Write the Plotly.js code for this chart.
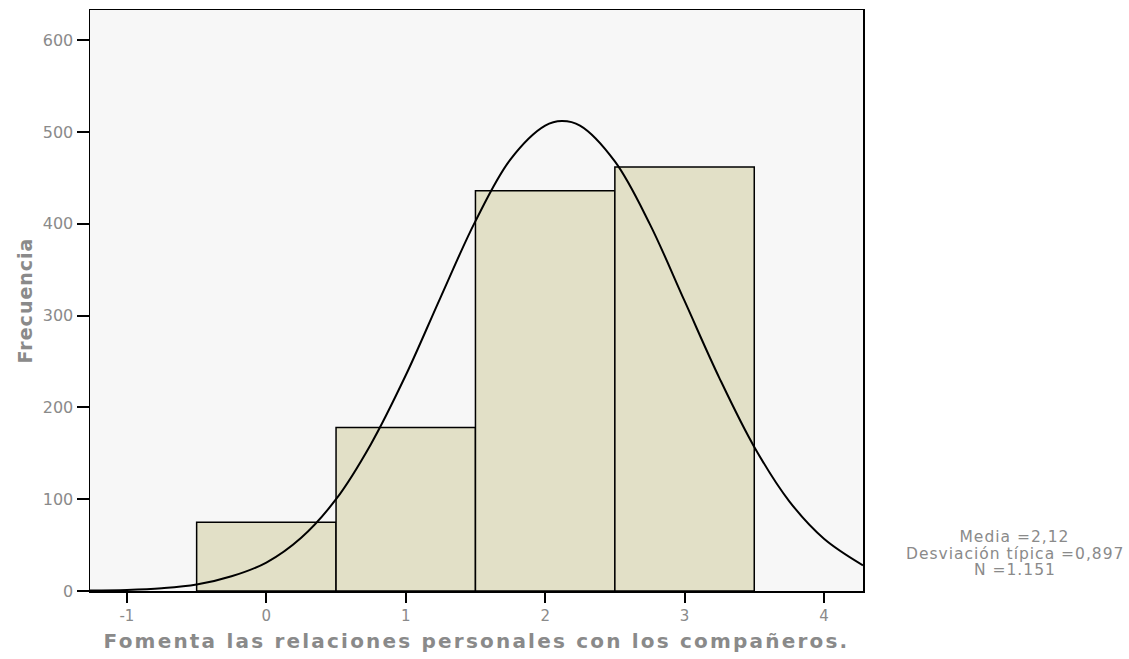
<!DOCTYPE html>
<html>
<head>
<meta charset="utf-8">
<script src="https://cdn.plot.ly/plotly-3.0.1.min.js"></script>
<style>
  html, body { margin: 0; padding: 0; background: #ffffff; }
  #chart { width: 1129px; height: 659px; }
  /* the original export draws its text wider than the installed fonts */
  #chart .xtitle { letter-spacing: 2.2px; }
  #chart .ytitle { letter-spacing: 1px; }
  #chart .annotation-text { letter-spacing: 1px; }
</style>
</head>
<body>
<div id="chart"></div>
<script>
// Histogram bins (category value) and counts
const binCenters = [0, 1, 2, 3];
const binCounts = [75, 178, 436, 462];

// Normal curve
const curveX = [-1.27, -1, -0.75, -0.5, -0.25, 0, 0.25, 0.5, 0.75, 1, 1.25, 1.5, 1.75, 2, 2.12,
                2.25, 2.5, 2.75, 3, 3.25, 3.5, 3.75, 4, 4.28];
const curveY = [0.6, 1.2, 3, 7, 16, 31, 58, 100, 160, 235, 320, 403, 470, 507, 512,
                507, 468, 400, 316, 232, 157, 98, 57, 28];

const xTickVals = [-1, 0, 1, 2, 3, 4];
const xTickText = ['-1', '0', '1', '2', '3', '4'];
const yTickVals = [0, 100, 200, 300, 400, 500, 600];

const statsLines = ['Media =2,12', 'Desviación típica =0,897', 'N =1.151'];

const GREY = '#8a8a8a';
const FONT = 'DejaVu Sans, Liberation Sans, Arial, sans-serif';

const traces = [
  { type: 'bar', x: binCenters, y: binCounts, width: 1,
    marker: { color: '#e2e0c7', line: { color: '#000000', width: 1.5 } },
    hoverinfo: 'skip' },
  { type: 'scatter', mode: 'lines', x: curveX, y: curveY,
    line: { color: '#000000', width: 2, shape: 'spline', smoothing: 1 },
    hoverinfo: 'skip' },
];

// stats box at the right, one annotation per line to keep the tight spacing
const statsTop = 0.0925, statsStep = 0.0285;
const statsAnnotations = statsLines.map((line, i) => ({
  xref: 'paper', yref: 'paper', x: 1.1966, y: statsTop - i * statsStep,
  xanchor: 'center', yanchor: 'middle', text: line, showarrow: false,
  font: { size: 15.5, color: GREY, family: FONT },
}));

const layout = {
  width: 1129, height: 659,
  paper_bgcolor: '#ffffff', plot_bgcolor: '#f7f7f7',
  font: { family: FONT, color: GREY, size: 15 },
  showlegend: false,
  bargap: 0,
  margin: { l: 90, r: 266, t: 10, b: 68 },
  xaxis: {
    range: [-1.265, 4.28], tickvals: xTickVals, ticktext: xTickText,
    showgrid: false, zeroline: false,
    showline: true, linecolor: '#000000', linewidth: 1.5, mirror: true,
    ticks: 'outside', ticklen: 10, tickwidth: 2, tickcolor: '#000000',
    tickfont: { size: 15, color: GREY },
    title: { text: 'Fomenta las relaciones personales con los compañeros.',
             font: { size: 20, color: GREY, weight: 'bold' }, standoff: 10 },
  },
  yaxis: {
    range: [0, 633], tickvals: yTickVals,
    showgrid: false, zeroline: false,
    showline: true, linecolor: '#000000', linewidth: 1.5, mirror: true,
    ticks: 'outside', ticklen: 12, tickwidth: 2, tickcolor: '#000000',
    tickfont: { size: 16, color: GREY },
    title: { text: 'Frecuencia', font: { size: 19, color: GREY, weight: 'bold' }, standoff: 5 },
  },
  annotations: statsAnnotations,
};

Plotly.newPlot('chart', traces, layout, { displayModeBar: false, staticPlot: true });
</script>
</body>
</html>
